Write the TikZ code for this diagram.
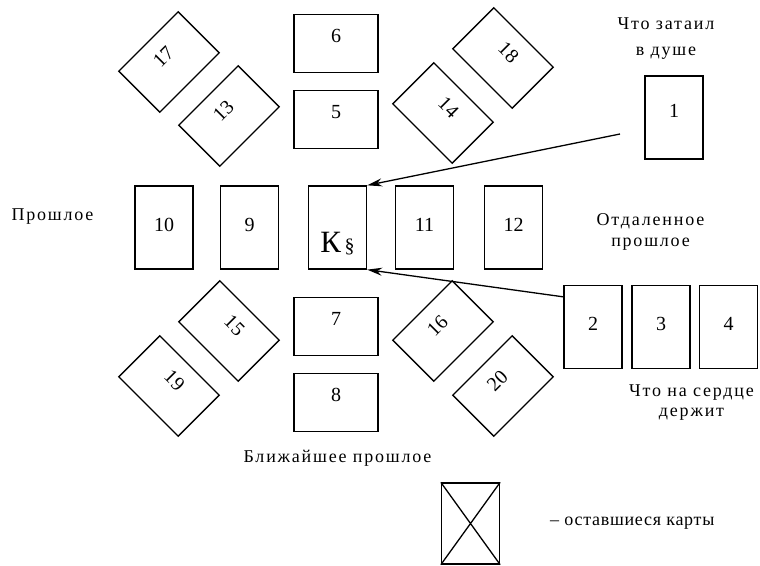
\documentclass[tikz,border=0pt]{standalone}
\usepackage{fontspec}
\setmainfont{Liberation Serif}
\newfontfamily\lblfont[LetterSpace=10]{Liberation Serif}
\newfontfamily\legfont[LetterSpace=4]{Liberation Serif}
\usetikzlibrary{arrows.meta,calc}
\begin{document}
\begin{tikzpicture}[x=1pt,y=-1pt,
  card/.style={draw, line width=1.3pt, inner sep=0pt, font=\fontsize{20}{20}\selectfont},
  vcard/.style={card, minimum width=58pt, minimum height=83pt, text depth=6pt},
  hcard/.style={card, minimum width=84pt, minimum height=58pt, text depth=16pt},
  lbl/.style={font=\lblfont\fontsize{18}{21}\selectfont, align=center, inner sep=0pt},
  arr/.style={line width=1.3pt, -{Stealth[length=15pt,width=8pt]}}
]
\useasboundingbox (0,0) rectangle (760,565);
% vertical cards
\node[vcard] (c10) at (164,227.5) {10};
\node[vcard] (c9) at (249.5,227.5) {9};
\node[vcard, text height=49pt, text depth=0pt] (k) at (337.5,227.5) {{\fontsize{31}{31}\selectfont К}\,§};
\node[vcard] (c11) at (424.5,227.5) {11};
\node[vcard] (c12) at (513.5,227.5) {12};
\node[vcard, text depth=14pt] (c1) at (674,117.5) {1};
\node[vcard] (c2) at (593,327) {2};
\node[vcard] (c3) at (661,327) {3};
\node[vcard] (c4) at (728.5,327) {4};
% horizontal cards
\node[hcard] (c6) at (336,43.5) {6};
\node[hcard] (c5) at (336,119.5) {5};
\node[hcard] (c7) at (336,326.5) {7};
\node[hcard] (c8) at (336,402.5) {8};
% rotated cards
\node[hcard, rotate=45] (c17) at (169,62) {17};
\node[hcard, rotate=45] (c13) at (229,116) {13};
\node[hcard, rotate=-45] (c18) at (503,58) {18};
\node[hcard, rotate=-45] (c14) at (443,113) {14};
\node[hcard, rotate=-45] (c15) at (229,331) {15};
\node[hcard, rotate=-45] (c19) at (169,386) {19};
\node[hcard, rotate=45] (c16) at (443,331) {16};
\node[hcard, rotate=45] (c20) at (503,386) {20};
% labels
\node[lbl] (lpast) at (52.5,217) {Прошлое};
\node[lbl] (lfar) at (650.5,232) {Отдаленное\\прошлое};
\node[lbl, font=\lblfont\fontsize{18}{26}\selectfont] (lhide) at (666,39) {Что затаил\\в душе};
\node[lbl, font=\lblfont\fontsize{18}{20}\selectfont] (lheart) at (691.5,403) {Что на сердце\\держит};
\node[lbl] (lnear) at (337.5,458) {Ближайшее прошлое};
% legend
\node[vcard, minimum height=81pt] (leg) at (470.5,523.5) {};
\draw[line width=1.3pt] (leg.north west) -- (leg.south east) (leg.north east) -- (leg.south west);
\node[lbl, font=\legfont\fontsize{18}{21}\selectfont, anchor=west] (lleg) at (550,523) {– оставшиеся карты};
% arrows
\coordinate (s1) at (620,134);
\draw[arr] (s1) -- (k.north east);
\draw[arr] ($(c2.north west)+(0,12)$) -- (k.south east);
\end{tikzpicture}
\end{document}
